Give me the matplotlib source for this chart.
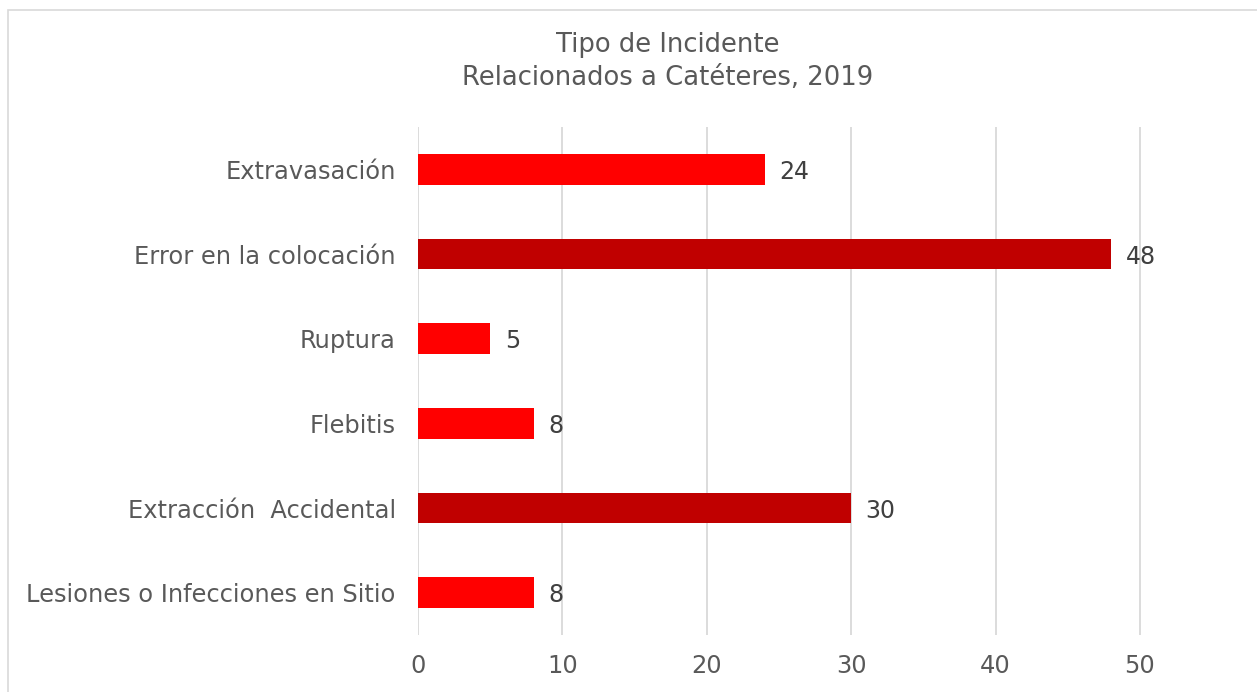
import matplotlib.pyplot as plt
from matplotlib.patches import Rectangle

categorias = ["Extravasación", "Error en la colocación", "Ruptura", "Flebitis",
              "Extracción  Accidental", "Lesiones o Infecciones en Sitio"]
valores = [24, 48, 5, 8, 30, 8]
colores = ["#FF0000", "#C00000", "#FF0000", "#FF0000", "#C00000", "#FF0000"]
ticks_x = [0, 10, 20, 30, 40, 50]

plt.rcParams['font.family'] = ['DejaVu Sans']

fig = plt.figure(figsize=(12.57, 6.92), dpi=100)
ax = fig.add_axes([418 / 1257, 1 - 635 / 692, 1 - 418 / 1257, (635 - 127) / 692])

pos = list(range(len(categorias)))
ax.barh(pos, valores, height=0.36, color=colores, zorder=3)
for p, v in zip(pos, valores):
    ax.text(v + 1.0, p, str(v), va='center_baseline', ha='left', fontsize=17, color='#404040')

ax.set_ylim(len(categorias) - 0.5, -0.5)
ax.set_xlim(0, (1257 - 418) / 14.44)
ax.set_yticks(pos)
ax.set_yticklabels(categorias, fontsize=17.4, color='#595959')
ax.set_xticks(ticks_x)
ax.set_xticklabels([str(t) for t in ticks_x], fontsize=17.4, color='#595959')
ax.tick_params(axis='y', length=0, pad=16)
ax.tick_params(axis='x', length=0, pad=13.5)
ax.grid(axis='x', color='#D9D9D9', linewidth=1.3, zorder=0)
for s in ax.spines.values():
    s.set_visible(False)

fig.text(668 / 1257, 1 - 45 / 692, "Tipo de Incidente", ha='center', va='center',
         fontsize=18.6, color='#595959')
fig.text(668 / 1257, 1 - 78 / 692, "Relacionados a Catéteres, 2019", ha='center', va='center',
         fontsize=18.6, color='#595959')

# borde del area del grafico
fig.patches.append(Rectangle((8 / 1257, -0.1), 1.2, 1.1 - 10 / 692, transform=fig.transFigure,
                             fill=False, edgecolor='#D9D9D9', linewidth=1.2, clip_on=False))

fig.savefig("out.png", dpi=100)
